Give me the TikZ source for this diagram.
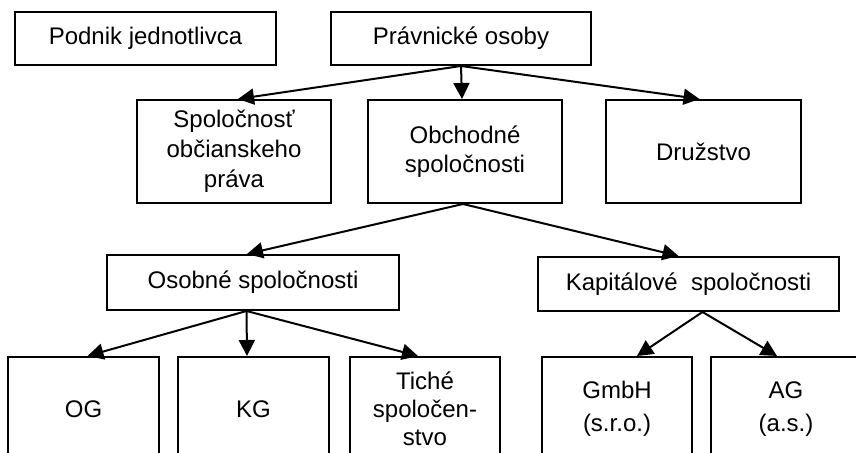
\documentclass[tikz,border=0pt]{standalone}
\usepackage{fontspec}
\setmainfont{Liberation Sans}
\usetikzlibrary{arrows.meta}

\begin{document}
\begin{tikzpicture}[x=0.5pt, y=-0.5pt,
	box/.style={draw, rectangle, line width=1pt, align=center, inner sep=0pt,
		font=\fontsize{12}{14.5}\selectfont},
	arr/.style={line width=1pt, -{Triangle[length=8pt, width=8pt]}}]
\useasboundingbox (0,0) rectangle (856,453);
\clip (0,0) rectangle (856,453);
% top row
\node [box, minimum width=130.5pt, minimum height=26.5pt] (podnik) at (145.5,38.5) {Podnik jednotlivca};
\node [box, minimum width=130pt, minimum height=26.5pt] (pravnicke) at (461,38.5) {Právnické osoby};
% second row
\node [box, minimum width=97pt, minimum height=51.5pt, font=\fontsize{12}{15}\selectfont] (spol) at (234,151.5) {Spoločnosť\\občianskeho\\práva};
\node [box, minimum width=97pt, minimum height=51.5pt] (obch) at (465,151.5) {Obchodné\\spoločnosti};
\node [box, minimum width=97.5pt, minimum height=51.5pt] (druz) at (703.5,151.5) {Družstvo};
% third row
\node [box, minimum width=146pt, minimum height=27.5pt] (osob) at (253,282.5) {Osobné spoločnosti};
\node [box, minimum width=150.5pt, minimum height=27pt] (kapit) at (688.5,284) {Kapitálové\ \ spoločnosti};
% bottom row
\node [box, minimum width=75.5pt, minimum height=52pt] (og) at (83.5,409) {OG};
\node [box, minimum width=75.5pt, minimum height=52pt] (kg) at (253.5,409) {KG};
\node [box, minimum width=75pt, minimum height=52pt, font=\fontsize{12}{14}\selectfont] (tiche) at (425,409) {Tiché\\spoločen-\\stvo};
\node [box, minimum width=75pt, minimum height=52pt] (gmbh) at (617,409) {GmbH\\[2pt](s.r.o.)};
\node [box, minimum width=75pt, minimum height=52pt] (ag) at (786,409) {AG\\[2pt](a.s.)};

\draw [arr] (pravnicke.south) -- ([xshift=2pt]spol.north);
\draw [arr] (pravnicke.south) -- ([xshift=-1.5pt]obch.north);
\draw [arr] (pravnicke.south) -- ([xshift=-2pt]druz.north);

\draw [arr] ([xshift=-1pt]obch.south) -- ([xshift=-3pt]osob.north);
\draw [arr] ([xshift=-1pt]obch.south) -- ([xshift=-5pt]kapit.north);

\draw [arr] ([xshift=-3.25pt]osob.south) -- ([xshift=2pt]og.north);
\draw [arr] ([xshift=-3.25pt]osob.south) -- ([xshift=-3.25pt]kg.north);
\draw [arr] ([xshift=-3.25pt]osob.south) -- ([xshift=-3.5pt]tiche.north);

\draw [arr] ([xshift=7pt]kapit.south) -- ([xshift=10pt]gmbh.north);
\draw [arr] ([xshift=7pt]kapit.south) -- ([xshift=-4.5pt]ag.north);
\end{tikzpicture}
\end{document}
